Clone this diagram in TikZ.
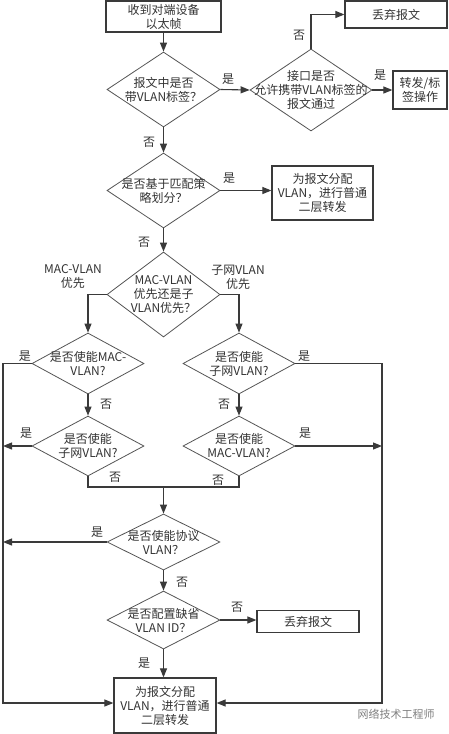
\documentclass[tikz,border=0pt]{standalone}
\usepackage{fontspec}
\setmainfont{Noto Sans CJK SC}
\usetikzlibrary{shapes.geometric,arrows.meta}
\definecolor{ln}{HTML}{3A3A3A}
\definecolor{dl}{HTML}{555555}
\definecolor{tx}{HTML}{333333}
\tikzset{
  box/.style={draw=ln, line width=1.2pt, rectangle, inner sep=0pt, align=center,
    font=\fontsize{12}{14}\selectfont, text=tx},
  dia/.style={draw=dl, line width=0.8pt, diamond, inner sep=0pt},
  lbl/.style={align=center, font=\fontsize{12}{14}\selectfont, text=tx, inner sep=0pt},
  arr/.style={-{Triangle[length=9pt,width=7pt]}, draw=ln, line width=1.1pt},
  conn/.style={draw=ln, line width=1.1pt},
  yn/.style={font=\fontsize{12}{14}\selectfont, text=tx, inner sep=0pt, align=center},
}
\begin{document}
\begin{tikzpicture}[x=1pt,y=-1pt]
\fill[white] (0,0) rectangle (448,734);
\useasboundingbox (0,0) rectangle (448,734);

% boxes
\node[box, minimum width=115pt, minimum height=31pt] (start) at (163.5,16.5) {收到对端设备\\以太帧};
\node[box, minimum width=102pt, minimum height=27pt] (drop1) at (396,14.5) {丢弃报文};
\node[box, minimum width=54pt, minimum height=38pt] (fwd) at (420,90) {转发/标\\签操作};
\node[box, minimum width=101pt, minimum height=54pt] (assign1) at (322.5,193) {为报文分配\\VLAN，进行普通\\二层转发};
\node[box, minimum width=102pt, minimum height=21.6pt] (drop2) at (308,621.5) {丢弃报文};
\node[box, minimum width=102pt, minimum height=55pt] (assign2) at (165,705.5) {为报文分配\\VLAN，进行普通\\二层转发};

% diamonds
\node[dia, minimum width=113pt, minimum height=75pt, label={[lbl]center:{报文中是否\\带VLAN标签？}}] (d1) at (163.5,89.5) {};
\node[dia, minimum width=122pt, minimum height=82pt, label={[lbl]center:{接口是否\\允许携带VLAN标签的\\报文通过}}] (d2) at (311,90) {};
\node[dia, minimum width=113pt, minimum height=75pt, label={[lbl]center:{是否基于匹配策\\略划分？}}] (d3) at (163.5,190.5) {};
\node[dia, minimum width=113pt, minimum height=85pt, label={[lbl]center:{MAC-VLAN\\优先还是子\\VLAN优先？}}] (d4) at (163.5,294.5) {};
\node[dia, minimum width=112pt, minimum height=61pt, label={[lbl]center:{是否使能MAC-\\VLAN?}}] (d5) at (88,363.5) {};
\node[dia, minimum width=112pt, minimum height=61pt, label={[lbl]center:{是否使能\\子网VLAN?}}] (d6) at (239,363.5) {};
\node[dia, minimum width=112pt, minimum height=60pt, label={[lbl]center:{是否使能\\子网VLAN?}}] (d7) at (88,446) {};
\node[dia, minimum width=112pt, minimum height=60pt, label={[lbl]center:{是否使能\\MAC-VLAN?}}] (d8) at (239,446) {};
\node[dia, minimum width=113pt, minimum height=56pt, label={[lbl]center:{是否使能协议\\VLAN？}}] (d9) at (163.5,542) {};
\node[dia, minimum width=113pt, minimum height=58pt, label={[lbl]center:{是否配置缺省\\VLAN ID？}}] (d10) at (163.5,620) {};

% helper coordinates
\coordinate (lt) at (3,363.5);
\coordinate (lb) at (3,703);
\coordinate (rt) at (382,363.5);
\coordinate (rb) at (382,703);
\coordinate (m) at (163.5,487);

% connectors
\draw[arr] (start.south) -- (d1.north);
\draw[arr] (d1.east) -- (d2.west);
\draw[arr] (d2.north) |- (drop1.west);
\draw[arr] (d2.east) -- (fwd.west);
\draw[arr] (d1.south) -- (d3.north);
\draw[arr] (d3.east) -- (d3.east -| assign1.west);
\draw[arr] (d3.south) -- (d4.north);
\draw[arr] (d4.west) -| (d5.north);
\draw[arr] (d4.east) -| (d6.north);
\draw[arr] (d5.south) -- (d7.north);
\draw[arr] (d6.south) -- (d8.north);
\draw[arr] (d5.west) -- (lt) -- (lb) -- (lb -| assign2.west);
\draw[arr] (d6.east) -- (rt) -- (rb) -- (rb -| assign2.east);
\draw[arr] (d7.west) -- (d7.west -| lt);
\draw[arr] (d8.east) -- (d8.east -| rt);
\draw[conn] (d7.south) |- (m) -| (d8.south);
\draw[arr] (m) -- (d9.north);
\draw[arr] (d9.west) -- (d9.west -| lt);
\draw[arr] (d9.south) -- (d10.north);
\draw[arr] (d10.east) -- (d10.east -| drop2.west);
\draw[arr] (d10.south) -- (d10.south |- assign2.north);

% labels
\node[yn] (l1) at (228,79) {是};
\node[yn] (l2) at (299,35) {否};
\node[yn] (l3) at (380,75) {是};
\node[yn] (l4) at (149,142) {否};
\node[yn] (l5) at (229,178) {是};
\node[yn] (l6) at (144,242) {否};
\node[yn] (l7) at (73,277) {MAC-VLAN\\优先};
\node[yn] (l8) at (238,277) {子网VLAN\\优先};
\node[yn] (l9) at (25,356) {是};
\node[yn] (l10) at (304,356) {是};
\node[yn] (l11) at (106,404) {否};
\node[yn] (l12) at (224,404) {否};
\node[yn] (l13) at (26,433) {是};
\node[yn] (l14) at (305,433) {是};
\node[yn] (l15) at (115,477) {否};
\node[yn] (l16) at (218,480) {否};
\node[yn] (l17) at (97,532) {是};
\node[yn] (l18) at (182,582) {否};
\node[yn] (l19) at (237,607) {否};
\node[yn] (l20) at (144,663) {是};

% watermark
\node[font=\fontsize{11}{13}\selectfont, text=gray, inner sep=0pt] (wm) at (396,714) {网络技术工程师};
\end{tikzpicture}
\end{document}
